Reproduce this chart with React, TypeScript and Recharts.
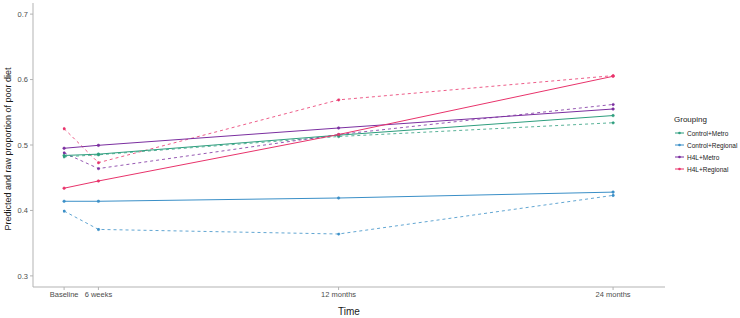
import React from "react";
import { LineChart, Line, XAxis, YAxis } from "recharts";

const times = [0, 1.5, 12, 24];
const timeLabels = ["Baseline", "6 weeks", "12 months", "24 months"];
const groups = ["Control+Metro", "Control+Regional", "H4L+Metro", "H4L+Regional"];
const colors = ["#2E9E7E", "#3A8FC7", "#7B2FA0", "#E8336B"];

const predControlMetro = [0.484, 0.486, 0.515, 0.545];
const predControlRegional = [0.414, 0.414, 0.419, 0.428];
const predH4LMetro = [0.495, 0.4995, 0.526, 0.555];
const predH4LRegional = [0.434, 0.445, 0.516, 0.605];

const rawControlMetro = [0.482, 0.485, 0.513, 0.534];
const rawControlRegional = [0.399, 0.371, 0.364, 0.423];
const rawH4LMetro = [0.488, 0.464, 0.516, 0.562];
const rawH4LRegional = [0.525, 0.473, 0.569, 0.606];

const yTicks = [0.3, 0.4, 0.5, 0.6, 0.7];

const preds = [predControlMetro, predControlRegional, predH4LMetro, predH4LRegional];
const raws = [rawControlMetro, rawControlRegional, rawH4LMetro, rawH4LRegional];

const data = times.map((t, i) => {
  const row: Record<string, number> = { t };
  groups.forEach((g, k) => {
    row["pred" + k] = preds[k][i];
    row["raw" + k] = raws[k][i];
  });
  return row;
});

const tickStyle = { fontSize: 7.5, fill: "#4d4d4d", fontFamily: "Liberation Sans, Arial, sans-serif" };
const axisColor = "#b3b3b3";

export default function App() {
  return (
    <div style={{ position: "absolute", left: 0, top: 0, width: 740, height: 318, background: "#fff", fontFamily: "Liberation Sans, Arial, sans-serif" }}>
      <LineChart width={740} height={318} data={data} margin={{ top: 3, right: 75, bottom: 0, left: 0 }}>
        <XAxis
          dataKey="t"
          type="number"
          domain={[-1.36, 26.27]}
          ticks={times}
          tickFormatter={(v: number) => timeLabels[times.indexOf(v)] ?? ""}
          tick={tickStyle}
          tickSize={3}
          stroke={axisColor}
          height={31}
          interval={0}
          allowDataOverflow
          label={{ value: "Time", position: "insideBottom", offset: 3, style: { fontSize: 10, fill: "#1a1a1a" } }}
        />
        <YAxis
          type="number"
          domain={[0.283, 0.717]}
          ticks={yTicks}
          tickFormatter={(v: number) => v.toFixed(1)}
          tick={tickStyle}
          tickSize={3}
          stroke={axisColor}
          width={33}
          allowDataOverflow
          label={{
            value: "Predicted and raw proportion of poor diet",
            angle: -90,
            position: "insideLeft",
            offset: 8,
            dy: 4,
            style: { fontSize: 9, fill: "#1a1a1a", textAnchor: "middle" },
          }}
        />
        {groups.map((g, k) => (
          <Line
            key={"raw" + k}
            dataKey={"raw" + k}
            stroke={colors[k]}
            strokeWidth={0.8}
            strokeDasharray="3 3"
            dot={{ r: 1.3, fill: colors[k], stroke: colors[k], strokeWidth: 0.5 }}
            isAnimationActive={false}
            legendType="none"
          />
        ))}
        {groups.map((g, k) => (
          <Line
            key={"pred" + k}
            dataKey={"pred" + k}
            name={g}
            stroke={colors[k]}
            strokeWidth={1}
            dot={{ r: 1.3, fill: colors[k], stroke: colors[k], strokeWidth: 0.5 }}
            isAnimationActive={false}
          />
        ))}
      </LineChart>
      <div style={{ position: "absolute", left: 674, top: 115, fontSize: 6.5, color: "#1a1a1a", whiteSpace: "nowrap" }}>
        <div style={{ fontSize: 8, marginBottom: 3 }}>Grouping</div>
        {groups.map((g, k) => (
          <div key={g} style={{ display: "flex", alignItems: "center", height: 12 }}>
            <svg width={11} height={12} style={{ marginRight: 2, flexShrink: 0 }}>
              <line x1={1} y1={6} x2={10} y2={6} stroke={colors[k]} strokeWidth={1} />
              <circle cx={5.5} cy={6} r={1.3} fill={colors[k]} />
            </svg>
            <span>{g}</span>
          </div>
        ))}
      </div>
    </div>
  );
}
